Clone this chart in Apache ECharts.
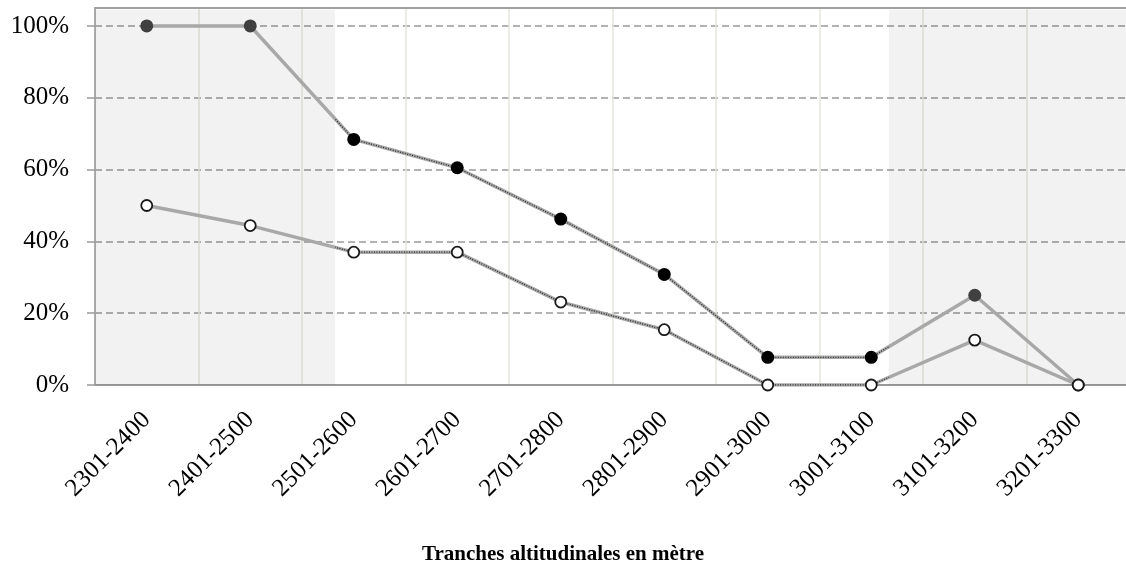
<!DOCTYPE html>
<html>
<head>
<meta charset="utf-8">
<script src="https://cdn.jsdelivr.net/npm/echarts@6/dist/echarts.min.js"></script>
<style>
  html, body { margin: 0; padding: 0; background: #ffffff; }
  #chart { width: 1126px; height: 569px; }
</style>
</head>
<body>
<div id="chart"></div>
<script>
// Altitude bands (metres)
const categories = ['2301-2400', '2401-2500', '2501-2600', '2601-2700', '2701-2800',
                    '2801-2900', '2901-3000', '3001-3100', '3101-3200', '3201-3300'];
// Share per band, in percent (filled markers / open markers)
const shareFilled = [100, 100, 68.4, 60.5, 46.2, 30.8, 7.7, 7.7, 25, 0];
const shareOpen   = [50, 44.4, 37.0, 37.0, 23.1, 15.4, 0, 0, 12.5, 0];
// Y axis tick values
const yTicks = [0, 20, 40, 60, 80, 100];
// Shaded altitude ranges, expressed in band-index units
const shadeLow  = [-0.5, 1.82];
const shadeHigh = [7.17, 9.5];

const SERIF = '"Liberation Serif", "DejaVu Serif", serif';
const GRAY_LINE = '#a8a8a8';

const toPairs = arr => arr.map((v, i) => [i, v]);

const chart = echarts.init(document.getElementById('chart'), null, { renderer: 'canvas' });

const middlePieces = (outside, inside) => [
  { lt: shadeLow[1], color: outside },
  { gte: shadeLow[1], lte: shadeHigh[0], color: inside },
  { gt: shadeHigh[0], color: outside }
];

chart.setOption({
  animation: false,
  backgroundColor: '#ffffff',
  graphic: [{
    type: 'text',
    x: 563,
    y: 555,
    silent: true,
    style: {
      text: 'Tranches altitudinales en mètre',
      align: 'center',
      verticalAlign: 'middle',
      font: 'bold 21px ' + SERIF,
      fill: '#000'
    }
  }],
  grid: { left: 95, width: 1035, top: 8, height: 377, containLabel: false, outerBoundsMode: 'none' },
  xAxis: [
    {
      type: 'category',
      data: categories,
      boundaryGap: true,
      axisLine: { show: true, lineStyle: { color: '#9a9a9a', width: 2 } },
      axisTick: { show: false },
      splitLine: { show: true, lineStyle: { color: '#e6e6dc', width: 1.5 } },
      axisLabel: {
        rotate: 45,
        margin: 31,
        interval: 0,
        fontFamily: SERIF,
        fontSize: 25,
        color: '#000'
      }
    },
    {
      type: 'value',
      min: -0.5,
      max: 9.5,
      position: 'top',
      axisLine: { show: true, onZero: false, lineStyle: { color: '#a0a0a0', width: 2 } },
      axisTick: { show: false },
      axisLabel: { show: false },
      splitLine: { show: false }
    }
  ],
  yAxis: {
    type: 'value',
    min: 0,
    max: 105,
    interval: 20,
    axisLine: { show: true, onZero: false, lineStyle: { color: '#9a9a9a', width: 1.5 } },
    axisTick: { show: true, length: 8, customValues: yTicks, lineStyle: { color: '#9a9a9a', width: 1.5 } },
    axisLabel: {
      customValues: yTicks,
      margin: 26,
      fontFamily: SERIF,
      fontSize: 25,
      color: '#000',
      formatter: v => v + '%'
    },
    splitLine: { show: true, lineStyle: { color: '#9b9b9b', width: 1.5, type: [7, 4] } }
  },
  visualMap: [
    { type: 'piecewise', show: false, dimension: 0, seriesIndex: [3, 4],
      pieces: middlePieces('rgba(0,0,0,0)', '#2b2b2b') },
    { type: 'piecewise', show: false, dimension: 0, seriesIndex: [5],
      pieces: middlePieces('#404040', '#000000') }
  ],
  series: [
    // background shading of the low and high ranges
    {
      type: 'line', xAxisIndex: 1, data: [], silent: true,
      markArea: {
        silent: true,
        itemStyle: { color: 'rgba(0,0,0,0.05)' },
        data: [
          [{ coord: [shadeLow[0], 0] }, { coord: [shadeLow[1], 104.5] }],
          [{ coord: [shadeHigh[0], 0] }, { coord: [shadeHigh[1], 104.5] }]
        ]
      }
    },
    // solid grey base lines
    { name: 'base-filled', type: 'line', xAxisIndex: 1, data: toPairs(shareFilled), showSymbol: false, symbol: 'none',
      lineStyle: { color: GRAY_LINE, width: 3.5 }, z: 3 },
    { name: 'base-open', type: 'line', xAxisIndex: 1, data: toPairs(shareOpen), showSymbol: false, symbol: 'none',
      lineStyle: { color: GRAY_LINE, width: 3.5 }, z: 3 },
    // dark textured stroke over the middle range
    { name: 'tex-filled', type: 'line', xAxisIndex: 1, data: toPairs(shareFilled), symbol: 'none',
      lineStyle: { width: 1.3, type: [1, 1.5] }, z: 4 },
    { name: 'tex-open', type: 'line', xAxisIndex: 1, data: toPairs(shareOpen), symbol: 'none',
      lineStyle: { width: 1.3, type: [1, 1.5] }, z: 4 },
    // markers
    { name: 'Part (pleins)', type: 'line', xAxisIndex: 1, data: toPairs(shareFilled),
      symbol: 'circle', symbolSize: 13, showSymbol: true,
      lineStyle: { opacity: 0, width: 0 }, itemStyle: { borderWidth: 0 }, z: 5 },
    { name: 'Part (vides)', type: 'line', xAxisIndex: 1, data: toPairs(shareOpen),
      symbol: 'circle', symbolSize: 11, showSymbol: true,
      lineStyle: { opacity: 0, width: 0 },
      itemStyle: { color: '#ffffff', borderColor: '#1a1a1a', borderWidth: 1.8 }, z: 5 }
  ]
});
</script>
</body>
</html>
